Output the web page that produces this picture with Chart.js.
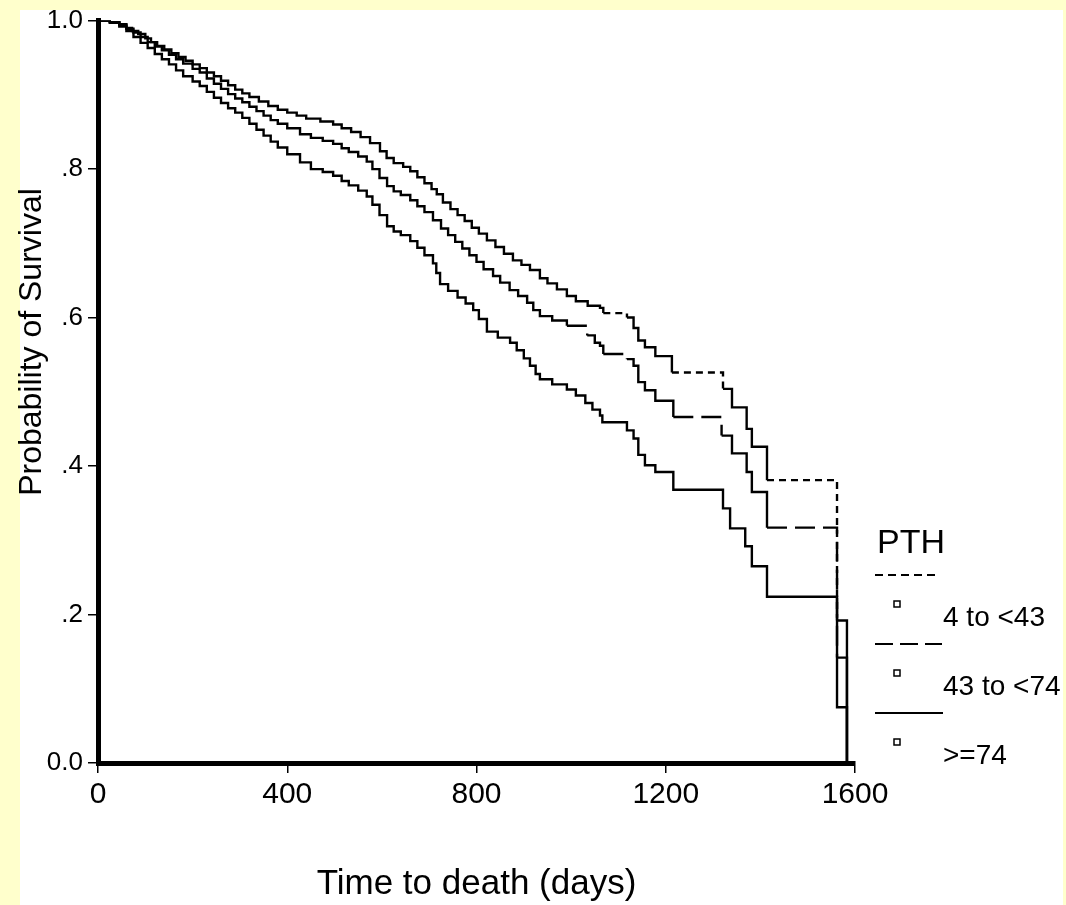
<!DOCTYPE html>
<html>
<head>
<meta charset="utf-8">
<script src="https://cdn.jsdelivr.net/npm/chart.js@4.4.1/dist/chart.umd.min.js"></script>
<style>
  html, body { margin: 0; padding: 0; background: #ffffcc; }
  #panel { position: absolute; left: 20px; top: 10px; width: 1043px; height: 895px; background: #fff; }
  #myChart { position: absolute; left: 0; top: 0; }
</style>
</head>
<body>
<div id="panel"></div>
<canvas id="myChart" width="1066" height="905"></canvas>
<script>
const FONT = "'Liberation Sans', Arial, sans-serif";

// legend labels, same order as the series below
const seriesNames = ["4 to <43", "43 to <74", ">=74"];

// axis ticks
const xTicks = [0, 400, 800, 1200, 1600];
const yTicks = [0, 0.2, 0.4, 0.6, 0.8, 1.0];

// Kaplan-Meier steps: [day, survival after the drop]
const pth4to43 = [
  [0, 1.000], [25, 0.998], [45, 0.995], [60, 0.990], [72, 0.986], [85, 0.982],
  [100, 0.976], [112, 0.971], [125, 0.966], [140, 0.961], [155, 0.956], [170, 0.951],
  [185, 0.946], [200, 0.941], [215, 0.936], [230, 0.930], [245, 0.925], [260, 0.919],
  [275, 0.913], [290, 0.907], [305, 0.902], [320, 0.897], [340, 0.891], [360, 0.885],
  [380, 0.880], [400, 0.876], [420, 0.872], [440, 0.868], [470, 0.864], [497, 0.860],
  [515, 0.855], [535, 0.850], [555, 0.843], [575, 0.835], [596, 0.824], [610, 0.815],
  [625, 0.808], [645, 0.803], [660, 0.797], [675, 0.789], [690, 0.781], [705, 0.773],
  [716, 0.766], [729, 0.755], [745, 0.746], [760, 0.738], [775, 0.730], [790, 0.721],
  [805, 0.713], [822, 0.704], [840, 0.695], [858, 0.686], [877, 0.677], [895, 0.671],
  [913, 0.664], [934, 0.653], [950, 0.646], [970, 0.638], [991, 0.629], [1010, 0.622],
  [1035, 0.616], [1061, 0.613], [1068, 0.606], [1118, 0.600], [1132, 0.586], [1142, 0.569],
  [1156, 0.560], [1178, 0.548], [1213, 0.526], [1321, 0.504], [1340, 0.479], [1371, 0.450],
  [1382, 0.426], [1414, 0.381], [1562, 0.192], [1583, 0.000]
];

const pth43to74 = [
  [0, 1.000], [25, 0.998], [45, 0.994], [60, 0.989], [75, 0.984], [90, 0.978],
  [105, 0.971], [120, 0.965], [135, 0.960], [150, 0.954], [165, 0.948], [180, 0.942],
  [200, 0.935], [215, 0.930], [230, 0.922], [245, 0.915], [260, 0.908], [275, 0.901],
  [290, 0.895], [305, 0.890], [320, 0.884], [335, 0.878], [350, 0.872], [365, 0.866],
  [380, 0.861], [400, 0.855], [427, 0.847], [450, 0.842], [475, 0.838], [497, 0.834],
  [515, 0.828], [530, 0.823], [550, 0.817], [568, 0.810], [580, 0.800], [595, 0.788],
  [611, 0.777], [625, 0.770], [640, 0.765], [660, 0.758], [675, 0.750], [690, 0.742],
  [708, 0.731], [725, 0.720], [740, 0.711], [755, 0.702], [770, 0.693], [785, 0.684],
  [800, 0.675], [815, 0.665], [835, 0.656], [850, 0.647], [870, 0.637], [888, 0.629],
  [907, 0.620], [920, 0.610], [934, 0.602], [960, 0.596], [991, 0.589], [1034, 0.576],
  [1050, 0.566], [1061, 0.562], [1068, 0.551], [1118, 0.544], [1132, 0.535], [1142, 0.513],
  [1156, 0.502], [1178, 0.488], [1216, 0.466], [1318, 0.441], [1340, 0.417], [1371, 0.392],
  [1382, 0.365], [1414, 0.317], [1562, 0.142], [1583, 0.000]
];

const pth74plus = [
  [0, 1.000], [25, 0.997], [45, 0.992], [60, 0.986], [75, 0.978], [90, 0.970],
  [105, 0.963], [120, 0.955], [135, 0.948], [150, 0.941], [165, 0.933], [180, 0.925],
  [200, 0.918], [215, 0.912], [230, 0.904], [245, 0.896], [260, 0.889], [275, 0.882],
  [290, 0.876], [305, 0.869], [320, 0.861], [335, 0.853], [350, 0.845], [365, 0.837],
  [380, 0.829], [400, 0.820], [427, 0.809], [450, 0.800], [475, 0.796], [497, 0.791],
  [515, 0.784], [530, 0.778], [550, 0.771], [568, 0.763], [580, 0.752], [595, 0.738],
  [611, 0.723], [625, 0.716], [640, 0.711], [660, 0.703], [675, 0.694], [690, 0.684],
  [708, 0.673], [715, 0.660], [723, 0.645], [740, 0.636], [760, 0.627], [777, 0.619],
  [793, 0.610], [805, 0.598], [822, 0.581], [845, 0.573], [871, 0.566], [885, 0.556],
  [900, 0.545], [913, 0.535], [925, 0.524], [934, 0.517], [960, 0.510], [991, 0.503],
  [1010, 0.495], [1030, 0.485], [1045, 0.476], [1061, 0.468], [1066, 0.459], [1118, 0.448],
  [1132, 0.437], [1142, 0.415], [1156, 0.401], [1178, 0.392], [1216, 0.368], [1321, 0.343],
  [1336, 0.316], [1368, 0.292], [1382, 0.265], [1414, 0.224], [1562, 0.075], [1583, 0.000]
];

// dash patterns: short dash, long dash, solid
const plotDashes = [[7, 5], [20, 8], []];
const legendDashes = [[8, 5], [18, 7], []];

function toPoints(arr) {
  return arr.map((p) => ({ x: p[0], y: p[1] }));
}

// the original only shows the dashes on the long flat runs
function dashSegment(dash) {
  return function (ctx) {
    if (ctx.p1.parsed.x - ctx.p0.parsed.x > 40) return dash;
    return [];
  };
}

function yLabel(v) {
  if (v === 0) return "0.0";
  if (Math.abs(v - 1) < 1e-9) return "1.0";
  return "." + Math.round(v * 10);
}

// legend on the right and the y title (sits above the middle of the axis in the original)
const legendPTH = {
  id: "legendPTH",
  afterDraw(chart) {
    const ctx = chart.ctx;
    const x0 = chart.chartArea.right + 20;
    ctx.save();
    ctx.fillStyle = "#000";
    ctx.strokeStyle = "#000";

    ctx.save();
    ctx.translate(32, 342);
    ctx.rotate(-Math.PI / 2);
    ctx.textAlign = "center";
    ctx.textBaseline = "middle";
    ctx.font = "32px " + FONT;
    ctx.fillText("Probability of Survival", 0, 0);
    ctx.restore();

    ctx.textBaseline = "alphabetic";
    ctx.textAlign = "left";
    ctx.font = "34px " + FONT;
    ctx.fillText("PTH", x0 + 2, 553);

    const rows = [575, 644, 713];
    const lineEnds = [938, 942, 943];
    ctx.font = "28px " + FONT;
    for (let i = 0; i < rows.length; i++) {
      const y = rows[i];
      ctx.lineWidth = 2;
      ctx.setLineDash(legendDashes[i]);
      ctx.beginPath();
      ctx.moveTo(x0, y);
      ctx.lineTo(lineEnds[i], y);
      ctx.stroke();

      ctx.setLineDash([]);
      ctx.lineWidth = 1.5;
      ctx.strokeRect(x0 + 19, y + 26, 6, 6);

      ctx.fillText(seriesNames[i], x0 + 68, y + 51);
    }
    ctx.restore();
  },
};

const datasets = [pth4to43, pth43to74, pth74plus].map((serie, i) => ({
  label: seriesNames[i],
  data: toPoints(serie),
  borderColor: "#000",
  borderWidth: 2.4,
  pointRadius: 0,
  stepped: "before",
  fill: false,
  segment: { borderDash: dashSegment(plotDashes[i]) },
}));

const config = {
  type: "line",
  data: { datasets: datasets },
  options: {
    responsive: false,
    animation: false,
    layout: { padding: { top: 16, right: 211, bottom: 0, left: 0 } },
    scales: {
      x: {
        type: "linear",
        min: xTicks[0],
        max: xTicks[xTicks.length - 1],
        afterBuildTicks(scale) {
          scale.ticks = xTicks.map((v) => ({ value: v }));
        },
        ticks: {
          color: "#000",
          font: { family: FONT, size: 30 },
          padding: 4,
          maxRotation: 0,
          callback: (v) => String(v),
        },
        grid: {
          drawOnChartArea: false,
          drawTicks: true,
          tickLength: 10,
          color: "#000",
          lineWidth: 1.5,
        },
        border: { color: "#000", width: 5 },
        title: {
          display: true,
          text: "Time to death (days)",
          color: "#000",
          font: { family: FONT, size: 35 },
          padding: { top: 0, bottom: 0 },
        },
        afterFit(scale) {
          scale.height = 142;
        },
      },
      y: {
        type: "linear",
        min: yTicks[0],
        max: yTicks[yTicks.length - 1],
        afterBuildTicks(scale) {
          scale.ticks = yTicks.map((v) => ({ value: v }));
        },
        ticks: {
          color: "#000",
          font: { family: FONT, size: 26 },
          padding: 5,
          callback: (v) => yLabel(v),
        },
        grid: {
          drawOnChartArea: false,
          drawTicks: true,
          tickLength: 10,
          color: "#000",
          lineWidth: 1.5,
        },
        border: { color: "#000", width: 5 },
        title: { display: false },
        afterFit(scale) {
          scale.width = 98;
        },
      },
    },
    plugins: {
      legend: { display: false },
      tooltip: { enabled: false },
    },
  },
  plugins: [legendPTH],
};

const myChart = new Chart(document.getElementById("myChart"), config);
</script>
</body>
</html>
